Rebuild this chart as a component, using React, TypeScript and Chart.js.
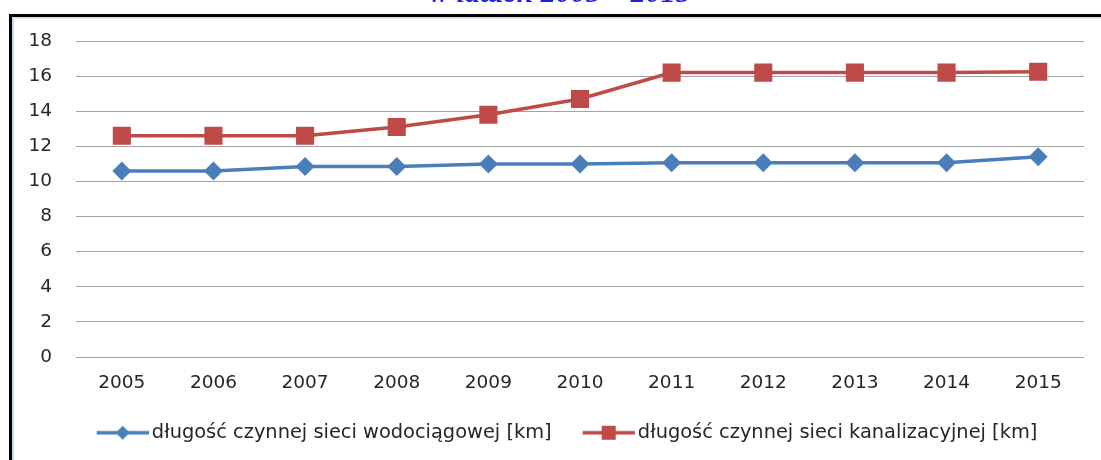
import React, { useEffect, useRef } from 'react';
import { Chart, registerables } from 'chart.js';

Chart.register(...registerables);

const years = ['2005', '2006', '2007', '2008', '2009', '2010', '2011', '2012', '2013', '2014', '2015'];
const waterNetwork = [10.6, 10.6, 10.85, 10.85, 11.0, 11.0, 11.07, 11.07, 11.07, 11.07, 11.4];
const sewerNetwork = [12.6, 12.6, 12.6, 13.1, 13.8, 14.7, 16.2, 16.2, 16.2, 16.2, 16.25];
const seriesLabels = [
  'długość czynnej sieci wodociągowej [km]',
  'długość czynnej sieci kanalizacyjnej [km]',
];
const yMin = 0;
const yMax = 18;
const yStep = 2;
const titleText = 'w latach 2005 – 2015';

const BLUE = '#4a7ebb';
const RED = '#be4b48';
const FONT = '"DejaVu Sans", sans-serif';
const TEXT = '#262626';

// legend icon: transparent strip on the left, then a 52px line with the marker in its middle
function legendIcon(color: string, shape: 'diamond' | 'square'): HTMLCanvasElement {
  const lead = 9;
  const c = document.createElement('canvas');
  c.width = lead + 52;
  c.height = 20;
  const ctx = c.getContext('2d')!;
  ctx.strokeStyle = color;
  ctx.lineWidth = 3.5;
  ctx.beginPath();
  ctx.moveTo(lead, 10);
  ctx.lineTo(lead + 52, 10);
  ctx.stroke();
  ctx.fillStyle = color;
  const cx = lead + 26;
  if (shape === 'diamond') {
    ctx.beginPath();
    ctx.moveTo(cx, 3);
    ctx.lineTo(cx + 7, 10);
    ctx.lineTo(cx, 17);
    ctx.lineTo(cx - 7, 10);
    ctx.closePath();
    ctx.fill();
  } else {
    ctx.fillRect(cx - 7, 3, 14, 14);
  }
  return c;
}

const legendShiftPlugin = {
  id: 'legendShift',
  afterLayout(chart: any) {
    const lg = chart.legend;
    if (lg) {
      lg.left += 23.75;
      lg.right += 23.75;
    }
  },
};

const decorPlugin = {
  id: 'decor',
  afterDraw(chart: any) {
    const ctx = chart.ctx as CanvasRenderingContext2D;
    ctx.save();
    ctx.fillStyle = '#000000';
    ctx.fillRect(9, 14, 1101 - 9, 3);
    ctx.fillRect(9, 14, 3, 460 - 14);
    ctx.fillStyle = '#c6d9f1';
    ctx.fillRect(12, 17, 1101 - 12, 1.5);
    ctx.fillRect(12, 17, 2, 460 - 17);
    ctx.fillStyle = '#1f1fe6';
    ctx.font = 'italic bold 30px "Liberation Serif", serif';
    ctx.textAlign = 'center';
    ctx.textBaseline = 'alphabetic';
    ctx.fillText(titleText, 560, 2);
    ctx.restore();
  },
};

export default function App() {
  const ref = useRef<HTMLCanvasElement | null>(null);

  useEffect(() => {
    if (!ref.current) return;
    const icons = [legendIcon(BLUE, 'diamond'), legendIcon(RED, 'square')];
    const chart = new Chart(ref.current, {
      type: 'line',
      data: {
        labels: years,
        datasets: [
          {
            label: seriesLabels[0],
            data: waterNetwork,
            borderColor: BLUE,
            backgroundColor: BLUE,
            borderWidth: 3.5,
            pointStyle: 'rectRot',
            pointRadius: 9.5,
            pointBorderWidth: 0,
            pointBackgroundColor: BLUE,
            tension: 0,
          },
          {
            label: seriesLabels[1],
            data: sewerNetwork,
            borderColor: RED,
            backgroundColor: RED,
            borderWidth: 3.5,
            pointStyle: 'rect',
            pointRadius: 12.8,
            pointBorderWidth: 0,
            pointBackgroundColor: RED,
            tension: 0,
          },
        ],
      },
      options: {
        responsive: false,
        animation: false,
        layout: { padding: { top: 41, right: 17, left: 0, bottom: 7.6 } },
        scales: {
          x: {
            offset: true,
            grid: { display: false, drawTicks: false },
            border: { display: false },
            ticks: { color: TEXT, font: { family: FONT, size: 18.5 }, padding: 15, maxRotation: 0 },
            afterFit: (s: any) => { s.height = 37.5; },
          },
          y: {
            min: yMin,
            max: yMax,
            grid: { color: '#a3a3a3', lineWidth: 1, drawTicks: false },
            border: { display: false },
            ticks: { stepSize: yStep, color: TEXT, font: { family: FONT, size: 18.5 }, padding: 24 },
            afterFit: (s: any) => { s.width = 76; },
          },
        },
        plugins: {
          title: { display: false },
          tooltip: { enabled: false },
          legend: {
            position: 'bottom',
            labels: {
              usePointStyle: true,
              pointStyleWidth: 48,
              padding: 28.5,
              color: TEXT,
              font: { family: FONT, size: 19.4 },
              generateLabels: (ch: any) =>
                ch.data.datasets.map((ds: any, i: number) => ({
                  text: ds.label,
                  fillStyle: ds.backgroundColor,
                  strokeStyle: ds.borderColor,
                  lineWidth: 0,
                  pointStyle: icons[i],
                  hidden: false,
                  datasetIndex: i,
                  fontColor: TEXT,
                })),
            },
          },
        },
      },
      plugins: [legendShiftPlugin, decorPlugin],
    });
    return () => chart.destroy();
  }, []);

  return (
    <div style={{ position: 'fixed', left: 0, top: 0, width: 1101, height: 460, background: '#ffffff' }}>
      <canvas ref={ref} width={1101} height={460} style={{ width: 1101, height: 460, display: 'block' }} />
    </div>
  );
}
